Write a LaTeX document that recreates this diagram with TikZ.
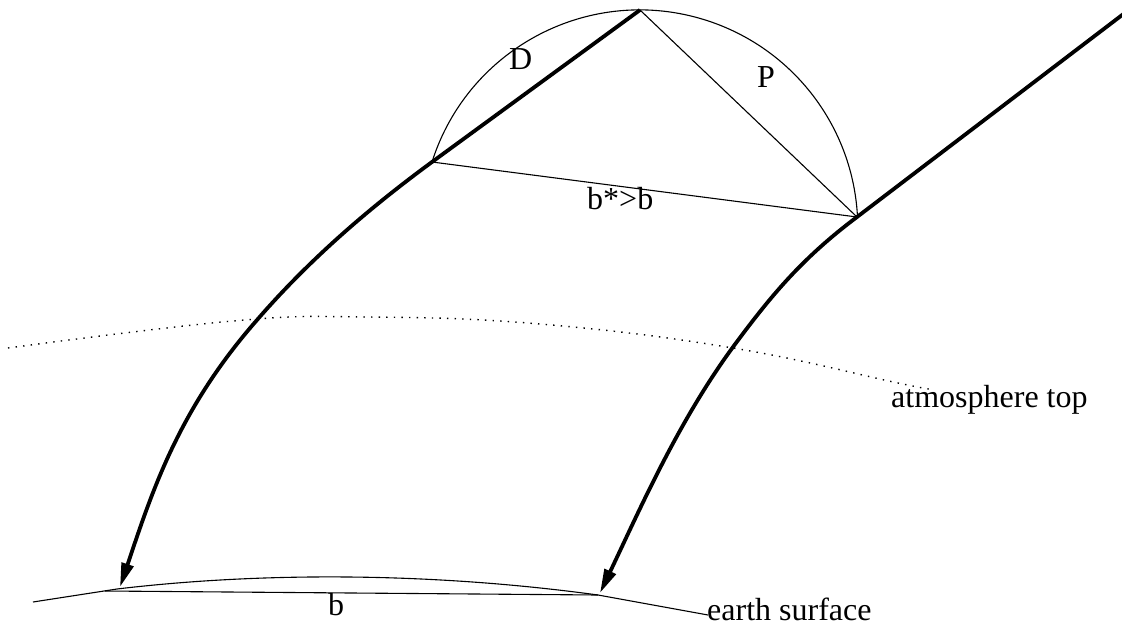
\documentclass[tikz,border=0pt]{standalone}
\usepackage{fontspec}
\setmainfont{Liberation Serif}
\usetikzlibrary{arrows.meta}
\begin{document}
\begin{tikzpicture}[x=1pt,y=-1pt,
  ray/.style={line width=3.8pt,-{Triangle[length=24pt,width=12pt]}},
  thin/.style={line width=1.1pt},
  dots/.style={line width=1.4pt,dash pattern=on 1.4pt off 6.2pt},
  lbl/.style={inner sep=0pt,anchor=base west,font=\fontsize{32}{37}\selectfont}]
\useasboundingbox (0,0) rectangle (1122,626);
\clip (0,0) rectangle (1122,626);
% key points
\coordinate (apex) at (640,10);
\coordinate (L1) at (432,162);
\coordinate (L2) at (257,320);
\coordinate (Ltip) at (120,587);
\coordinate (R0) at (1130,9);
\coordinate (R1) at (857,217);
\coordinate (R2) at (733,347);
\coordinate (Rtip) at (600,593);
\coordinate (cen) at (640,228);
% rays
\draw[ray] (apex) -- (L1) .. controls (368,209) and (309,260) .. (L2)
  .. controls (178,410) and (152,492) .. (Ltip);
\draw[ray] (R0) -- (R1) .. controls (801,259) and (770,297) .. (R2)
  .. controls (678,422) and (640,509) .. (Rtip);
% semicircle and chords
\draw[thin] (L1) arc[start angle=-162.4, end angle=-2.6, radius=218];
\draw[thin] (apex) -- (R1);
\draw[thin] (L1) -- (R1);
% atmosphere top
\draw[dots] plot[smooth,tension=0.7] coordinates {(8,348) (233,321) (367,317) (540,324) (733,348) (898,383) (930,389)};
% earth surface
\coordinate (E0) at (33,602);
\coordinate (E1) at (117,589);
\coordinate (E2) at (598,595);
\coordinate (E3) at (708,615);
\coordinate (C0) at (105,591);
\draw[thin] (E0) -- (E1) .. controls (260,572) and (430,572) .. (E2) -- (E3);
\draw[thin] (C0) -- (E2);
% labels
\node[lbl] (D) at (509,70) {D};
\node[lbl] (P) at (757,88) {P};
\node[lbl] (bs) at (587,209) {b*>b};
\node[lbl] (b) at (328,615) {b};
\node[lbl] (atm) at (891,407) {atmosphere top};
\node[lbl] (es) at (707,620) {earth surface};
\end{tikzpicture}
\end{document}
